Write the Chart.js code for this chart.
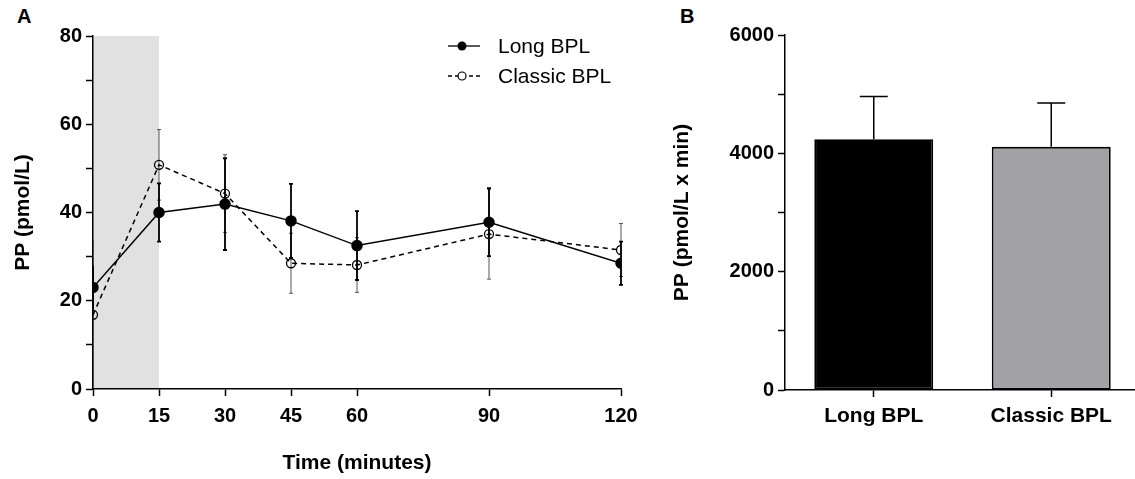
<!DOCTYPE html>
<html><head><meta charset="utf-8">
<script src="https://cdn.jsdelivr.net/npm/chart.js@4.4.0/dist/chart.umd.min.js"></script>
<style>
html,body{margin:0;padding:0;background:#fff;overflow:hidden;width:1135px;height:479px;}
#ca{position:absolute;left:0;top:0;}
#cb{position:absolute;left:660px;top:0;}
.lbl{position:absolute;font:bold 20px "Liberation Sans",Arial,sans-serif;color:#000;line-height:23px;}
</style></head><body>
<div class="lbl" style="left:17px;top:5px">A</div>
<div class="lbl" style="left:680px;top:5px">B</div>
<canvas id="ca" width="660" height="479"></canvas>
<canvas id="cb" width="485" height="479"></canvas>
<script>
// ---- data ----
const timePoints = [0, 15, 30, 45, 60, 90, 120];
const longMean = [23.0, 40.0, 41.9, 38.1, 32.5, 37.8, 28.5];
const longErr = [5.0, 6.6, 10.4, 8.4, 7.8, 7.7, 4.9];
const classicMean = [16.8, 50.8, 44.3, 28.5, 28.1, 35.1, 31.5];
const classicErr = [16.8, 8.0, 8.8, 6.8, 6.2, 10.2, 6.0];
const timeTicks = [0, 15, 30, 45, 60, 90, 120];
const shadeRange = [0, 15];
const groups = ['Long BPL', 'Classic BPL'];
const aucMean = [4240, 4110];
const aucErr = [720, 740];

const FF = '"Liberation Sans", Arial, sans-serif';
Chart.defaults.font.family = FF;
Chart.defaults.color = '#000';

function toXY(xs, ys) { return xs.map((x, i) => ({x: x, y: ys[i]})); }

function drawErr(chart, means, errs, color, lw, cap) {
  const {ctx, scales: {x, y}} = chart;
  ctx.save();
  ctx.strokeStyle = color; ctx.lineWidth = lw;
  timePoints.forEach((t, i) => {
    const px = x.getPixelForValue(t);
    const top = y.getPixelForValue(means[i] + errs[i]);
    const bot = y.getPixelForValue(Math.max(0, means[i] - errs[i]));
    ctx.beginPath();
    ctx.moveTo(px, top); ctx.lineTo(px, bot);
    if (t !== x.min) {
      ctx.moveTo(px - cap, top); ctx.lineTo(px + cap, top);
      ctx.moveTo(px - cap, bot); ctx.lineTo(px + cap, bot);
    }
    ctx.stroke();
  });
  ctx.restore();
}

const panelAPlugin = {
  id: 'panelA',
  beforeDraw(chart) {
    const {ctx, scales: {x, y}} = chart;
    const x0 = x.getPixelForValue(shadeRange[0]), x1 = x.getPixelForValue(shadeRange[1]);
    const yT = y.getPixelForValue(y.max), yB = y.getPixelForValue(y.min);
    ctx.save(); ctx.fillStyle = '#e1e1e1'; ctx.fillRect(x0, yT, x1 - x0, yB - yT); ctx.restore();
    drawErr(chart, classicMean, classicErr, '#555', 1, 2);
    drawErr(chart, longMean, longErr, '#000', 1.8, 2);
  },
  afterDraw(chart) {
    const {ctx, chartArea: ca} = chart;
    const rows = [
      {label: groups[0], dash: [], fill: '#000', y: ca.top + 10},
      {label: groups[1], dash: [4, 3], fill: null, y: ca.top + 40}
    ];
    const lx0 = ca.left + 355, lx1 = ca.left + 387, mx = ca.left + 369, tx = ca.left + 405;
    ctx.save();
    rows.forEach(r => {
      ctx.strokeStyle = '#000'; ctx.lineWidth = 1.3; ctx.setLineDash(r.dash);
      ctx.beginPath(); ctx.moveTo(lx0, r.y); ctx.lineTo(lx1, r.y); ctx.stroke();
      ctx.setLineDash([]);
      ctx.beginPath(); ctx.arc(mx, r.y, r.fill ? 4.5 : 4, 0, Math.PI * 2);
      if (r.fill) { ctx.fillStyle = r.fill; ctx.fill(); }
      else { ctx.fillStyle = '#fff'; ctx.fill(); ctx.lineWidth = 1.2; ctx.stroke(); }
      ctx.fillStyle = '#000'; ctx.font = '21px ' + FF; ctx.textBaseline = 'middle'; ctx.textAlign = 'left';
      ctx.fillText(r.label, tx, r.y + 1);
    });
    ctx.restore();
  }
};

new Chart(document.getElementById('ca'), {
  type: 'line',
  data: {
    datasets: [
      {label: groups[0], data: toXY(timePoints, longMean), borderColor: '#000', borderWidth: 1.5,
       pointRadius: 5, pointBackgroundColor: '#000', pointBorderColor: '#000', tension: 0},
      {label: groups[1], data: toXY(timePoints, classicMean), borderColor: '#000', borderWidth: 1.5,
       borderDash: [5, 4], pointRadius: 4.5, pointBorderWidth: 1.3, pointBackgroundColor: 'rgba(0,0,0,0)',
       pointBorderColor: '#000', tension: 0}
    ]
  },
  options: {
    responsive: false, animation: false,
    layout: {padding: {top: 36, right: 39, left: 0, bottom: 0}},
    plugins: {legend: {display: false}, tooltip: {enabled: false}},
    scales: {
      x: {
        type: 'linear', min: 0, max: 120,
        afterBuildTicks: s => { s.ticks = timeTicks.map(v => ({value: v})); },
        afterFit: s => { s.height = 90; },
        grid: {drawOnChartArea: false, drawTicks: true, tickLength: 7, tickColor: '#000', tickWidth: 1.5},
        border: {color: '#000', width: 1.5},
        ticks: {font: {size: 20, weight: 'bold'}, color: '#000', padding: 8, maxRotation: 0, autoSkip: false},
        title: {display: true, text: 'Time (minutes)', font: {size: 21, weight: 'bold'}, color: '#000', padding: {top: 0, bottom: 3}}
      },
      y: {
        min: 0, max: 80,
        afterFit: s => { s.width = 93; },
        grid: {drawOnChartArea: false, drawTicks: true, tickLength: 7, tickColor: '#000', tickWidth: 1.5},
        border: {color: '#000', width: 1.5},
        ticks: {stepSize: 10, font: {size: 20, weight: 'bold'}, color: '#000', padding: 4,
                callback: v => (v % 20 === 0 ? String(v) : '')},
        title: {display: true, text: 'PP (pmol/L)', font: {size: 21, weight: 'bold'}, color: '#000', padding: {top: 11, bottom: 0}}
      }
    }
  },
  plugins: [panelAPlugin]
});

const panelBPlugin = {
  id: 'panelB',
  afterDatasetsDraw(chart) {
    const {ctx, scales: {x, y}} = chart;
    ctx.save();
    ctx.strokeStyle = '#000'; ctx.lineWidth = 1.5;
    groups.forEach((g, i) => {
      const px = x.getPixelForValue(i);
      const top = y.getPixelForValue(aucMean[i] + aucErr[i]);
      const base = y.getPixelForValue(aucMean[i]);
      ctx.beginPath();
      ctx.moveTo(px, base); ctx.lineTo(px, top);
      ctx.moveTo(px - 14, top); ctx.lineTo(px + 14, top);
      ctx.stroke();
    });
    ctx.restore();
  }
};

new Chart(document.getElementById('cb'), {
  type: 'bar',
  data: {
    labels: groups,
    datasets: [{
      data: aucMean,
      backgroundColor: ['#000000', '#a2a1a6'],
      borderColor: '#000', borderWidth: 1.8, borderSkipped: false,
      categoryPercentage: 1, barPercentage: 0.67
    }]
  },
  options: {
    responsive: false, animation: false,
    layout: {padding: {top: 35, right: 5, left: 0, bottom: 0}},
    plugins: {legend: {display: false}, tooltip: {enabled: false}},
    scales: {
      x: {
        afterFit: s => { s.height = 89; },
        grid: {offset: false, drawOnChartArea: false, drawTicks: true, tickLength: 7, tickColor: '#000', tickWidth: 1.5},
        border: {color: '#000', width: 1.5},
        ticks: {font: {size: 21, weight: 'bold'}, color: '#000', padding: 7, maxRotation: 0}
      },
      y: {
        min: 0, max: 6000,
        afterFit: s => { s.width = 125; },
        grid: {drawOnChartArea: false, drawTicks: true, tickLength: 7, tickColor: '#000', tickWidth: 1.5},
        border: {color: '#000', width: 1.5},
        ticks: {stepSize: 1000, font: {size: 20, weight: 'bold'}, color: '#000', padding: 4,
                callback: v => (v % 2000 === 0 ? String(v) : '')},
        title: {display: true, text: 'PP (pmol/L x min)', font: {size: 21, weight: 'bold'}, color: '#000', padding: {top: 10, bottom: 0}}
      }
    }
  },
  plugins: [panelBPlugin]
});
</script>
</body></html>
